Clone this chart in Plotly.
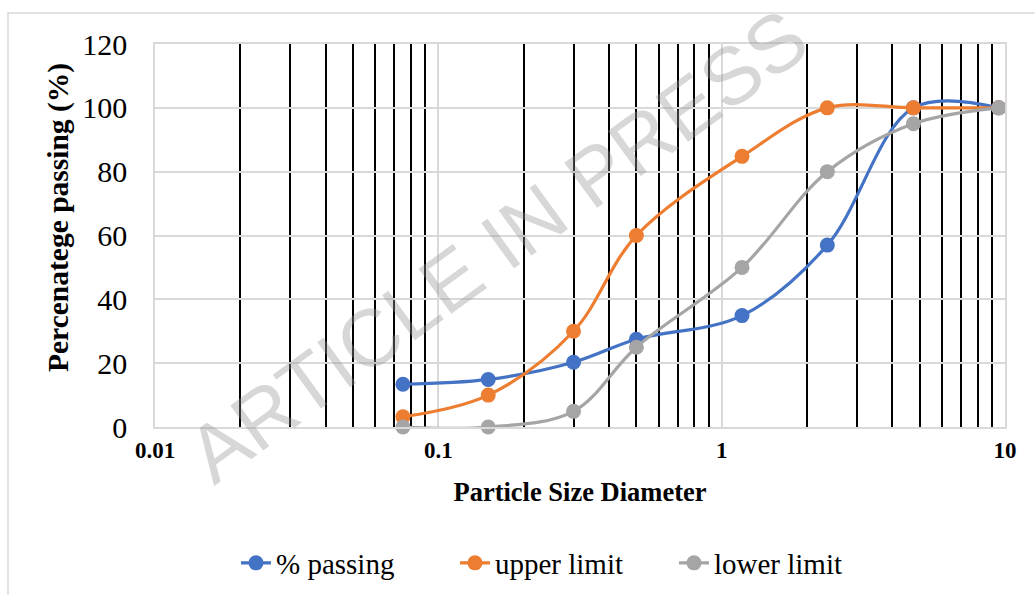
import plotly.graph_objects as go

# ---- data ----
sieve_sizes = [0.075, 0.15, 0.3, 0.5, 1.18, 2.36, 4.75, 9.5]
pct_passing = [13.4, 14.9, 20.3, 27.5, 34.9, 57.0, 100, 100]
upper_limit = [3.2, 10.0, 30.0, 60.0, 84.8, 100, 100, 100]
lower_limit = [0, 0, 4.9, 25.0, 50.0, 80.0, 95.0, 100]
series_names = ["% passing", "upper limit", "lower limit"]
x_ticks = [0.01, 0.1, 1, 10]
x_tick_text = ["0.01", "0.1", "1", "10"]
x_minor_grid = [0.02, 0.03, 0.04, 0.05, 0.06, 0.07, 0.08, 0.09,
                0.2, 0.3, 0.4, 0.5, 0.6, 0.7, 0.8, 0.9,
                2, 3, 4, 5, 6, 7, 8, 9]
y_ticks = [0, 20, 40, 60, 80, 100, 120]

colors = ["#4472C4", "#ED7D31", "#A5A5A5"]
serif = "Liberation Serif, Times New Roman, serif"
grid_gray = "#D9D9D9"

fig = go.Figure()
for name, vals, col in zip(series_names, [pct_passing, upper_limit, lower_limit], colors):
    fig.add_trace(go.Scatter(
        x=sieve_sizes, y=vals, name=name, mode="lines+markers",
        line=dict(color=col, width=3.2, shape="spline", smoothing=1),
        marker=dict(color=col, size=15),
        cliponaxis=False,
    ))

W, H = 1035, 595
L, R, T, B = 155, 30, 44, 168
pw, ph = W - L - R, H - T - B

fig.update_layout(
    width=W, height=H,
    margin=dict(l=L, r=R, t=T, b=B),
    paper_bgcolor="white", plot_bgcolor="white",
    font=dict(family=serif, color="black"),
    showlegend=True,
    legend=dict(
        orientation="h", xref="container", yref="container",
        x=0.228, xanchor="left", y=1 - 563 / H, yanchor="middle",
        font=dict(family=serif, size=29, color="black"),
        entrywidth=174, entrywidthmode="pixels",
        bgcolor="rgba(0,0,0,0)",
    ),
    xaxis=dict(
        type="log", range=[-2, 1],
        tickmode="array", tickvals=x_ticks, ticktext=x_tick_text,
        tickfont=dict(family=serif, size=23, color="black", weight="bold"),
        ticklabelstandoff=2,
        showgrid=True, gridcolor=grid_gray, gridwidth=1.5,
        minor=dict(tickmode="array", tickvals=x_minor_grid, showgrid=True,
                   gridcolor="black", gridwidth=1.5, ticks=""),
        showline=True, linecolor=grid_gray, linewidth=1.5, mirror=True,
        zeroline=False, ticks="",
        title=dict(text="<b>Particle Size Diameter</b>", standoff=20,
                   font=dict(family=serif, size=26.5, color="black")),
    ),
    yaxis=dict(
        range=[0, 120], tickmode="array", tickvals=y_ticks,
        tickfont=dict(family=serif, size=30, color="black"),
        ticklabelstandoff=20,
        showgrid=True, gridcolor=grid_gray, gridwidth=1.5,
        showline=True, linecolor=grid_gray, linewidth=1.5, mirror=True,
        zeroline=False, ticks="",
    ),
    annotations=[
        dict(
            text="ARTICLE IN PRESS", xref="paper", yref="paper",
            x=(497 - L) / pw, y=(427 - 246) / ph, xanchor="center", yanchor="middle",
            textangle=-36, showarrow=False,
            font=dict(family="Liberation Sans, Arial, sans-serif", size=81,
                      color="rgba(150,150,150,0.38)"),
        ),
        dict(
            text="<b>Percenatege passing (%)</b>", xref="paper", yref="paper",
            x=(58 - L) / pw, y=(427 - 218) / ph, xanchor="center", yanchor="middle",
            textangle=-90, showarrow=False,
            font=dict(family=serif, size=29.5, color="black"),
        ),
    ],
    shapes=[dict(
        type="rect", xref="paper", yref="paper",
        x0=(8 - L) / pw, x1=(W + 10 - L) / pw,
        y0=(427 - (H + 10)) / ph, y1=(427 - 13) / ph,
        line=dict(color=grid_gray, width=1.5), fillcolor="rgba(0,0,0,0)",
        layer="below",
    )],
)

fig.write_html("out.html")
